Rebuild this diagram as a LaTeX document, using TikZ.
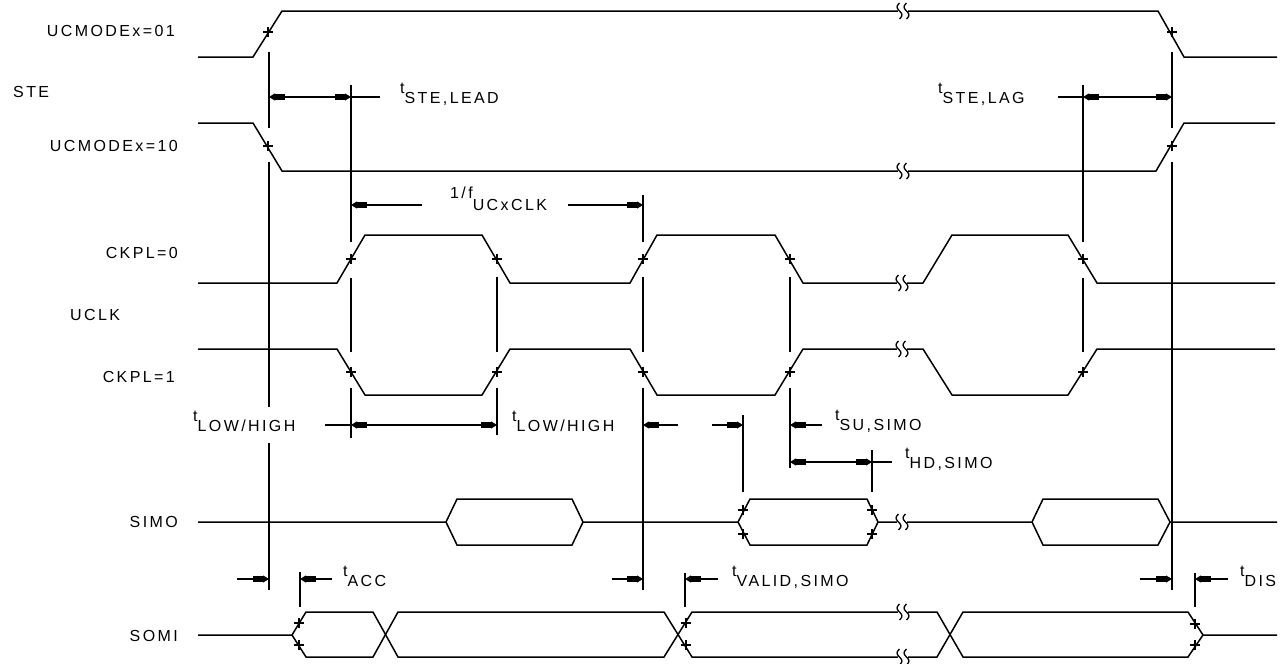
\documentclass[tikz,border=0pt]{standalone}
\usepackage{fontspec}
\setmainfont[LetterSpace=15]{Liberation Sans}
\usepackage{tikz}
\usetikzlibrary{arrows.meta}
\tikzset{
  font={\fontsize{16pt}{18pt}\selectfont}}
\tikzset{
  wave/.style={black,line width=1.5pt},
  refl/.style={black,line width=1.5pt},
  dimln/.style={black,line width=1.1pt},
  ltip/.style={dimln,{Triangle[length=6pt,width=7pt]Rectangle[length=10pt,width=6pt]}-},
  rtip/.style={dimln,-{Rectangle[length=10pt,width=6pt]Triangle[length=6pt,width=7pt]}},
  xm/.pic={\draw[black,line width=1.4pt] (-5,0) -- (5,0) (0,-5) -- (0,5);},
  brk/.pic={\fill[white] (-5,-2) rectangle (5,2);
    \draw[black,line width=1.3pt] plot[domain=-8:8,smooth,samples=17] ({-3.5+2.4*sin(\x*180/8)},\x);
    \draw[black,line width=1.3pt] plot[domain=-8:8,smooth,samples=17] ({3.5+2.4*sin(\x*180/8)},\x);}
}
\newcommand{\tsub}[1]{\raisebox{10pt}{t}#1}

\begin{document}
\begin{tikzpicture}[x=1pt,y=-1pt,every node/.style={inner sep=0pt}]
\useasboundingbox (0,0) rectangle (1288,664);
\draw (175,36) node[anchor=base east] (lmode01) {UCMODEx=01};
\draw (13,97) node[anchor=base west] (lste) {STE};
\draw (178,151) node[anchor=base east] (lmode10) {UCMODEx=10};
\draw (178,258) node[anchor=base east] (lckpl0) {CKPL=0};
\draw (70,320) node[anchor=base west] (luclk) {UCLK};
\draw (175,382) node[anchor=base east] (lckpl1) {CKPL=1};
\draw (178,527) node[anchor=base east] (lsimo) {SIMO};
\draw (178,641) node[anchor=base east] (lsomi) {SOMI};
\draw [wave] (198,57) -- (253,57) -- (282,11) -- (1158,11) -- (1184,57) -- (1277,57);
\draw [wave] (198,123) -- (253,123) -- (282,171) -- (1156,171) -- (1184,123) -- (1275,123);
\draw [wave] (198,283) -- (337,283) -- (365,235) -- (482,235) -- (510,283) -- (630,283) -- (657,235) -- (775,235) -- (803,283) -- (923,283) -- (952,235) -- (1068,235) -- (1097,283) -- (1275,283);
\draw [wave] (198,349) -- (337,349) -- (365,395) -- (482,395) -- (510,349) -- (630,349) -- (657,395) -- (775,395) -- (803,349) -- (923,349) -- (952,395) -- (1068,395) -- (1097,349) -- (1275,349);
\draw [wave] (198,522) -- (446,522) -- (457,499) -- (572,499) -- (583,522) -- (738,522) -- (750,499) -- (867,499) -- (878,522) -- (1032,522) -- (1043,499) -- (1158,499) -- (1170,522) -- (1277,522);
\draw [wave] (446,522) -- (457,545) -- (572,545) -- (583,522);
\draw [wave] (738,522) -- (750,545) -- (867,545) -- (878,522);
\draw [wave] (1032,522) -- (1043,545) -- (1158,545) -- (1170,522);
\draw [wave] (198,635) -- (292,635) -- (306,612) -- (373,612) -- (398,657) -- (664,657) -- (692,612) -- (937,612) -- (963,657) -- (1188,657) -- (1203,635) -- (1277,635);
\draw [wave] (292,635) -- (306,657) -- (373,657) -- (398,612) -- (664,612) -- (692,657) -- (937,657) -- (963,612) -- (1188,612) -- (1203,635);
\foreach \bx/\by in {903/11,903/171,902/283,902/349,902/522,903/612,903/657}
  \pic at (\bx,\by) {brk};
\foreach \cx/\cy in {268/32,1172/32,268/146,1172/146,351/259,497/259,643/259,790/259,1083/259,351/372,497/372,643/372,790/372,1083/372,743/510,743/534,872/510,872/534,299/623,299/645,686/623,686/645,1195/624,1195/645}
  \pic at (\cx,\cy) {xm};
\draw [refl] (269,52) -- (269,128) (269,162) -- (269,407) (269,443) -- (269,590);
\draw [refl] (351,85) -- (351,242) (351,278) -- (351,352) (351,388) -- (351,438);
\draw [refl] (497,277) -- (497,352) (497,388) -- (497,435);
\draw [refl] (643,195) -- (643,242) (643,277) -- (643,352) (643,388) -- (643,590);
\draw [refl] (743,415) -- (743,492);
\draw [refl] (790,277) -- (790,352) (790,388) -- (790,468);
\draw [refl] (872,450) -- (872,492);
\draw [refl] (1083,85) -- (1083,242) (1083,278) -- (1083,352);
\draw [refl] (1172,52) -- (1172,128) (1172,162) -- (1172,590);
\draw [refl] (300,572) -- (300,607);
\draw [refl] (685,573) -- (685,607);
\draw [refl] (1195,573) -- (1195,607);
\draw [ltip] (269,97) -- (310,97);
\draw [rtip] (310,97) -- (351,97);
\draw [dimln] (351,97) -- (380,97);
\draw (400,103) node[anchor=base west] (tlead) {\tsub{STE,LEAD}};
\draw [dimln] (1058,97) -- (1083,97);
\draw [ltip] (1083,97) -- (1128,97);
\draw [rtip] (1128,97) -- (1172,97);
\draw (938,103) node[anchor=base west] (tlag) {\tsub{STE,LAG}};
\draw [ltip] (351,205) -- (422,205);
\draw [rtip] (568,205) -- (643,205);
\draw (450,210) node[anchor=base west] (tclk) {\raisebox{12pt}{1/f}UCxCLK};
\draw [dimln] (325,425) -- (351,425);
\draw [ltip] (351,425) -- (424,425);
\draw [rtip] (424,425) -- (497,425);
\draw (193,431) node[anchor=base west] (tlow) {\tsub{LOW/HIGH}};
\draw [ltip] (643,425) -- (678,425);
\draw [rtip] (712,425) -- (743,425);
\draw (512,431) node[anchor=base west] (thigh) {\tsub{LOW/HIGH}};
\draw [ltip] (790,425) -- (822,425);
\draw (835,430) node[anchor=base west] (tsu) {\tsub{SU,SIMO}};
\draw [ltip] (790,462) -- (831,462);
\draw [rtip] (831,462) -- (872,462);
\draw [dimln] (872,462) -- (892,462);
\draw (905,468) node[anchor=base west] (thd) {\tsub{HD,SIMO}};
\draw [rtip] (237,579) -- (269,579);
\draw [ltip] (300,579) -- (332,579);
\draw (343,586) node[anchor=base west] (tacc) {\tsub{ACC}};
\draw [rtip] (612,579) -- (643,579);
\draw [ltip] (685,579) -- (718,579);
\draw (732,586) node[anchor=base west] (tvalid) {\tsub{VALID,SIMO}};
\draw [rtip] (1140,579) -- (1172,579);
\draw [ltip] (1195,579) -- (1228,579);
\draw (1240,586) node[anchor=base west] (tdis) {\tsub{DIS}};
\end{tikzpicture}
\end{document}
